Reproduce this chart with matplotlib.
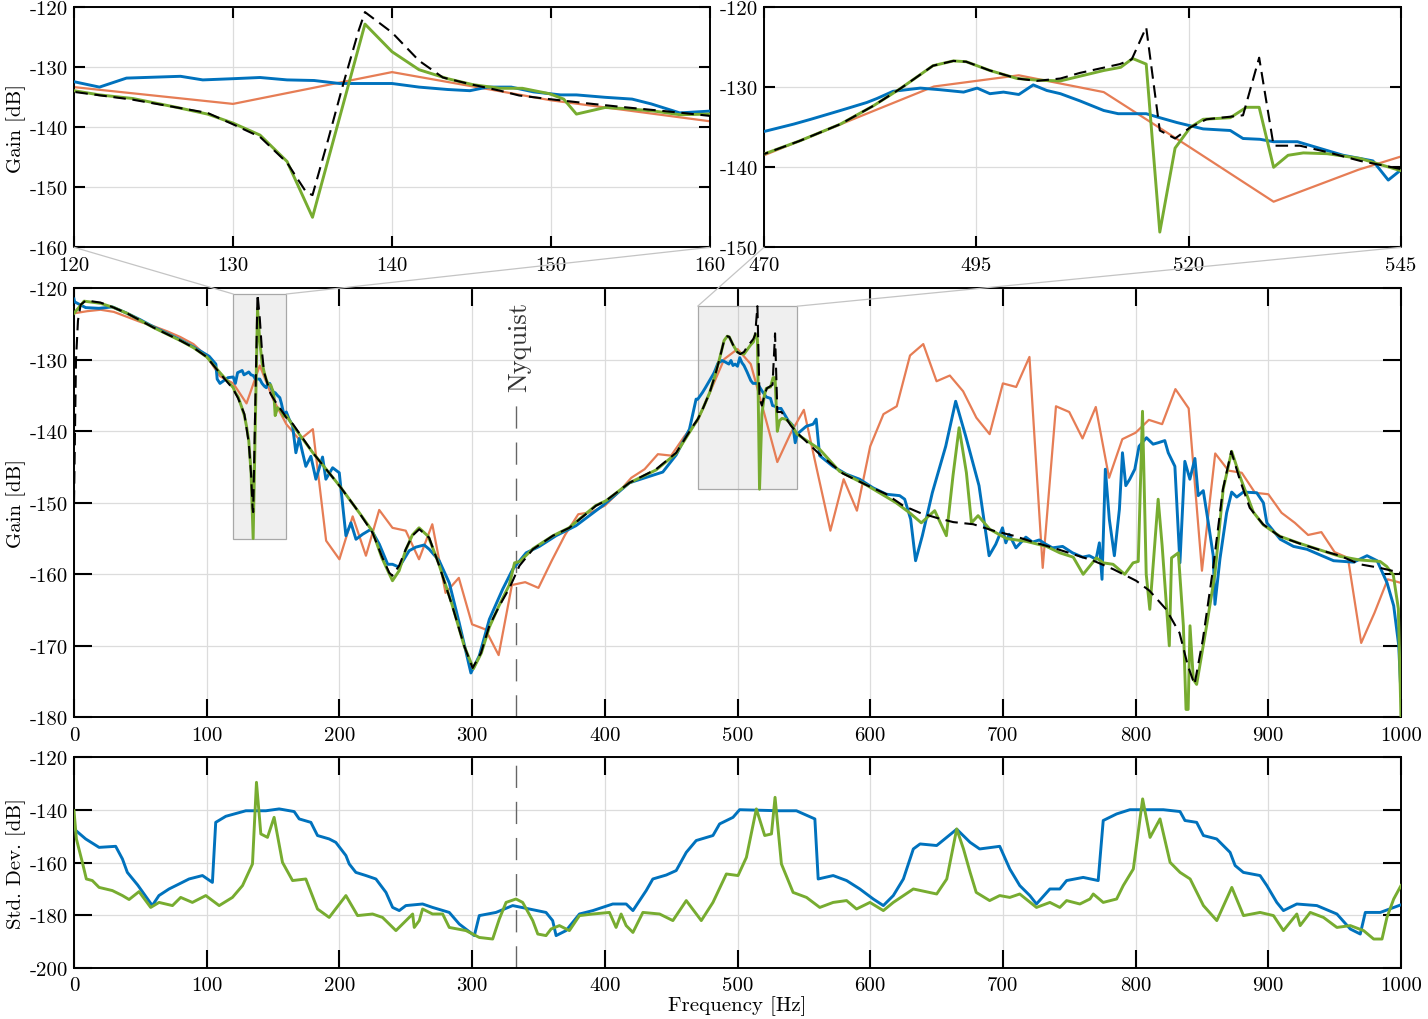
import numpy as np
import matplotlib
matplotlib.use('Agg')
import matplotlib.pyplot as plt
from matplotlib.patches import Rectangle, ConnectionPatch
from matplotlib.ticker import FuncFormatter

plt.rcParams['font.family'] = 'serif'
plt.rcParams['font.serif'] = ['cmr10', 'DejaVu Serif']
plt.rcParams['mathtext.fontset'] = 'cm'
plt.rcParams['axes.unicode_minus'] = False
plt.rcParams['axes.formatter.use_mathtext'] = False

# ---------------- data ----------------
orange_f = np.arange(0, 1001, 10)
orange_db = [-123.5, -123.2, -123.0, -123.3, -124.0, -124.7, -125.3, -126.0, -126.8, -127.8,
             -129.5, -132.3, -133.3, -136.1, -130.8, -135.5, -139.0, -141.2, -139.7, -155.3,
             -157.9, -151.9, -157.4, -151.0, -153.5, -153.9, -157.9, -153.0, -162.6, -160.5,
             -167.0, -167.7, -171.3, -161.5, -161.1, -161.9, -158.1, -154.5, -151.6, -151.3,
             -150.4, -148.6, -146.5, -145.3, -143.2, -143.4, -140.7, -138.5, -134.2, -129.9,
             -128.5, -130.6, -137.4, -144.3, -140.3, -137.0, -145.5, -153.9, -146.7, -151.1,
             -142.1, -137.6, -136.5, -129.4, -127.8, -133.0, -132.2, -134.4, -138.1, -140.4,
             -133.3, -133.8, -129.6, -159.1, -136.5, -137.3, -141.0, -136.6, -146.5, -141.1,
             -140.2, -138.4, -139.0, -134.1, -136.8, -159.5, -143.1, -145.5, -145.8, -148.6,
             -148.8, -151.4, -152.8, -154.5, -154.1, -156.9, -157.7, -169.6, -165.4, -160.7,
             -161.2]

black_f = [0, 1.5, 3, 5, 9, 20, 30, 40, 50, 60, 70, 80, 90, 100, 110, 120, 123.7, 126.5, 128.4,
           130, 131.7, 133.4, 134.6, 135.0, 136.0, 136.9, 137.9, 138.3, 140, 141.7, 143.2, 144.9,
           146.8, 148, 149.9, 152.6, 154.8, 157.9, 160, 165, 180, 200, 215, 225, 232, 237.6, 240,
           245, 250, 255, 260.2, 267.7, 275.2, 285, 294, 300.4, 306.7, 313, 320.6, 328.2, 335.7,
           345.8, 360.9, 373.3, 393.4, 400.9, 418.6, 438.7, 453.8, 466.3, 470.1, 474.2, 479, 482.9,
           486, 489.9, 492.3, 493.8, 496.6, 499.8, 502.1, 504.9, 507.2, 511.9, 513.3, 515, 516.6,
           518.4, 520.2, 522.1, 526.4, 528.3, 530, 533.1, 536.3, 540.2, 544.9, 561.8, 579.4, 597,
           612.2, 624.8, 637.4, 650, 662.6, 677.7, 692.8, 707.9, 723, 738, 753.1, 768.2, 783.3,
           790.8, 800.4, 810.5, 823, 833.1, 839.4, 844.4, 850.7, 858.3, 865.8, 872.1, 878.4, 886,
           896, 908.6, 923.7, 938.8, 953.9, 969, 984.1, 1000]
black_db = [-150, -130, -124.5, -122.3, -121.7, -122, -122.7, -123.5, -124.5, -125.5, -126.4,
            -127.3, -128.3, -129.6, -131.9, -134.1, -135.4, -136.7, -137.6, -139.5, -141.6, -145.9,
            -150.8, -151.3, -141.9, -133.1, -123.9, -120.8, -124.2, -128.9, -131.7, -132.8, -133.9,
            -134.7, -135.3, -136.1, -136.7, -137.5, -138.1, -139, -143, -147.6, -151.4, -154.2,
            -157.5, -159.8, -160.2, -158.8, -156.5, -154.6, -153.7, -154.9, -158.8, -164.4, -170,
            -173.1, -171, -167.2, -164.4, -161.9, -158.8, -156.5, -154.6, -153.5, -150.4, -149.7,
            -147.2, -145.3, -143, -139.3, -138.3, -136.7, -134.6, -132.3, -130.2, -127.3, -126.7,
            -126.8, -127.9, -128.9, -129.2, -128.9, -128.2, -127.1, -126.5, -122.5, -135.4, -136.4,
            -135, -134, -133.5, -126.3, -137.3, -137.3, -138.1, -139.2, -140.2, -143.2, -145.9,
            -147.5, -148.8, -150.4, -151.4, -152.1, -152.7, -153, -153.9, -154.6, -155.5, -156.3,
            -157.2, -158.1, -159.3, -160, -160.9, -162.3, -164.9, -168.2, -172.8, -175.4, -169.1,
            -159.3, -148.1, -142.8, -146.7, -150.7, -153, -154.7, -155.7, -156.6, -157.4, -158.6,
            -159.1, -159.8]

green_f = [0, 7.6, 20, 30, 40, 50, 60, 70, 80, 90, 100, 110, 120, 121.6, 123.7, 126.5, 128.4, 130,
           131.7, 133.4, 135, 138.3, 140, 141.7, 143.5, 145.1, 146.8, 148.2, 149.9, 150.8, 151.6,
           153.4, 154.8, 156.5, 158.1, 160, 165, 180, 200, 215, 225, 232, 240, 245, 250, 255, 260,
           267, 275, 285, 294, 301, 307, 313, 320, 328, 332, 336, 346, 361, 373, 393, 401, 418.6,
           438.7, 453.8, 466.3, 470.1, 474.2, 479, 482.9, 486, 489.9, 492.3, 493.8, 496.6, 499.8,
           502.1, 504.9, 510, 512, 513.4, 515, 516.6, 518.4, 520.2, 521.7, 524.9, 526.8, 528.3,
           530, 531.7, 533.5, 536.3, 540.2, 544.9, 561.8, 576.9, 597, 619.6, 629.7, 638.5, 648.6,
           657.4, 662.4, 667, 672.5, 676.3, 681.3, 690.1, 702.7, 717.8, 732.9, 742.9, 753, 760.5,
           770.5, 775.6, 783, 791.8, 798.1, 802, 805.2, 808, 810.7, 817, 820, 825.4, 827.1, 832.2,
           836, 838, 839.6, 841, 843.5, 846, 853.5, 859.8, 866, 872.4, 878.6, 888.7, 896.3, 908.9,
           924, 939, 954.2, 969, 984.2, 989.2, 994.2, 998, 1000]
green_db = [-123.5, -121.8, -122.1, -122.7, -123.5, -124.5, -125.5, -126.4, -127.3, -128.3, -129.6,
            -131.8, -133.9, -134.6, -135.2, -136.7, -137.8, -139.3, -141.3, -145.7, -155, -122.8,
            -127.4, -130.4, -131.9, -132.9, -133.5, -133.5, -134.4, -135.3, -137.8, -136.7, -136.9,
            -137.3, -137.9, -137.8, -139.2, -143, -147.6, -151.4, -154, -157.7, -160.9, -159.5,
            -156.6, -154.5, -153.5, -154.7, -158.6, -164.3, -170, -173.2, -171, -167.4, -164.5,
            -161.5, -158.4, -158.2, -156.4, -154.6, -153.5, -150.4, -149.7, -147.2, -145.4, -143.1,
            -139.4, -138.3, -136.7, -134.6, -132.3, -130.2, -127.3, -126.7, -126.8, -127.9, -128.9,
            -129.1, -129.2, -127.9, -127.5, -126.4, -127.1, -148.1, -137.6, -135, -134, -133.8,
            -132.5, -132.5, -140, -138.5, -138.2, -138.3, -138.9, -140.4, -142.5, -145.6, -147.5,
            -150, -151.4, -152.8, -151.1, -154.6, -146.2, -139.5, -145.8, -152.8, -151.8, -153.7,
            -155, -155.4, -156.1, -157, -157.6, -160, -157.7, -158.4, -158.6, -160, -158.4, -158.2,
            -137.2, -160, -164.9, -149.5, -156, -170, -157.7, -157, -167.2, -178.9, -178.9, -167.2,
            -174.7, -175.4, -167.2, -159.9, -148.1, -142.8, -146.3, -151.3, -153.1, -154.7, -155.7,
            -156.6, -157.5, -158, -158.2, -158.9, -160.1, -164.8, -180]

blue_f = [0, 0.5, 8.8, 18.8, 28.9, 40, 50, 60, 70, 80, 90, 101.8, 106.9, 107.9, 110, 116, 120,
          121.6, 123.3, 126.7, 128.1, 130, 131.7, 133.4, 135.1, 136.7, 140, 141.7, 143.5, 144.9,
          146, 147.5, 148.9, 150.6, 151.6, 153.4, 155.1, 156.3, 158.1, 160, 162.1, 164.7, 167.2,
          169.7, 174.7, 178.5, 182.3, 187.3, 189.8, 194.9, 199.9, 204.9, 208.7, 212.5, 217.5,
          223.8, 230.1, 236.4, 240, 245, 252.6, 257.6, 263.9, 267.7, 275.2, 282.8, 290.3, 299.1,
          305.4, 313, 323, 330.6, 340.7, 350.7, 363.3, 378.3, 398.4, 418.6, 438.7, 443.7, 453.8,
          463.8, 468.8, 470.1, 473.5, 475.5, 479, 482.1, 483.3, 485.2, 488.4, 490.7, 493.5, 495.1,
          496.6, 498.2, 500, 501.7, 503.3, 504.9, 507.2, 510, 511.7, 515, 516.6, 518.6, 521.7,
          524.9, 526.4, 528.4, 530, 532.8, 534.7, 538.2, 541.7, 543.5, 544.9, 551.8, 557, 559.3,
          561.9, 571.9, 582, 592, 602.1, 612.2, 622.2, 626, 630.5, 634.2, 639.3, 646.8, 656.9,
          664.4, 672, 682, 689.6, 694.6, 699.7, 702.2, 704.7, 709.8, 717.3, 722.3, 727.4, 732.4,
          737.4, 745, 752.5, 760.1, 765.1, 770.2, 772.7, 774.7, 777.2, 780.2, 784, 787.8, 790.1,
          792.6, 795.6, 799.4, 802.6, 808.2, 813.2, 817, 822, 824.6, 829.6, 833.4, 837.1, 840.9,
          844.7, 847.2, 851, 854.8, 858.5, 859.8, 863.6, 868.6, 872.4, 876.2, 881.2, 891.3, 896.3,
          898.9, 909, 919, 929.1, 949.2, 964.3, 974.4, 982, 989.5, 994.5, 998.3, 1000]
blue_db = [-121.5, -121.9, -122.7, -122.8, -122.6, -123.5, -124.4, -125.4, -126.3, -127.2, -128.2,
           -129.5, -130.6, -132.7, -133.3, -132.5, -132.4, -133.3, -131.8, -131.5, -132.1, -131.9,
           -131.7, -132.1, -132.2, -132.7, -132.7, -133.3, -133.7, -133.9, -133.3, -133.3, -134.1,
           -134.6, -134.6, -135.0, -135.3, -136.1, -137.6, -137.3, -138.3, -139.2, -143, -141,
           -144.9, -143.5, -146.7, -143.6, -146.7, -145.1, -145.8, -154.6, -152.8, -155.1, -154.4,
           -153.7, -155.8, -158.6, -158.6, -159, -156.7, -156.2, -155.9, -156.5, -158.1, -161.2,
           -166.8, -173.8, -171.4, -166.3, -162.1, -159.3, -157, -156.1, -154.6, -153.2, -150.4,
           -147.2, -146, -145.7, -143.3, -139.7, -135.5, -135.5, -134.6, -134, -132.9, -131.9,
           -131.4, -130.5, -130.1, -130.3, -130.6, -130.1, -130.8, -130.6, -130.9, -129.7, -130.4,
           -130.8, -131.7, -132.9, -133.3, -133.3, -133.8, -134.4, -135.2, -135.4, -136.4, -136.5,
           -136.8, -136.8, -137.4, -138.5, -139.2, -141.6, -140.4, -139.3, -139.0, -138.3, -143.4,
           -144.9, -146, -146.7, -147.9, -148.8, -149, -149.5, -152.3, -158.1, -154.6, -148.6,
           -142.1, -135.8, -140.7, -147.6, -157.4, -155.8, -153.5, -155.6, -154.4, -156.3, -154.8,
           -155.5, -155.2, -155.8, -156.3, -156.1, -157, -157.6, -157.4, -157.9, -155.6, -160.7,
           -145.3, -152.3, -157.4, -150.9, -143, -147.6, -146.7, -145.3, -142.1, -140.9, -141.8,
           -141.6, -141.3, -143, -144.9, -158.4, -144.2, -146.7, -143.8, -149, -148.3, -152.8,
           -157.4, -164.2, -157.8, -151.4, -148.5, -149.2, -148.5, -148.6, -150, -152.8, -155.1,
           -156.1, -156.5, -158.1, -158.3, -157.4, -158.1, -161.2, -164.4, -170, -177]

# standard deviation panel
std_blue_f = [0, 8.8, 18.9, 31.4, 36.5, 40.2, 48, 59, 64, 71.6, 79.2, 86.7, 96.8, 104.3, 106.8,
              114.4, 129.5, 144.6, 154.6, 165.9, 169.7, 178.5, 183.5, 192.3, 197.3, 204.9, 207.4,
              212.4, 220, 227.5, 235.1, 240.1, 245.1, 250.1, 262.7, 270.2, 282.8, 290.3, 301.7,
              305.4, 318, 330.6, 343.1, 355.7, 360.7, 363.3, 370.8, 380.9, 391, 406, 416.1, 421.2,
              431.2, 436.2, 446.3, 453.8, 461.4, 468.9, 481.5, 486.5, 496.6, 501.6, 531.8, 544.4,
              558.3, 560.8, 572.1, 582.2, 592.2, 602.3, 609.9, 617.4, 625, 632.5, 637.6, 650.1,
              665.2, 675.3, 682.5, 697.6, 705.2, 712.7, 720.3, 725.3, 735.4, 742.9, 748, 760.5,
              771.8, 775.6, 785.7, 795.7, 820.9, 833.5, 837.2, 846, 851.1, 861.1, 871.2, 875, 881.2,
              893.8, 898.9, 906.4, 911.4, 921.5, 936.6, 951.7, 961.8, 969.3, 973.1, 984.4, 1000]
std_blue_db = [-147.2, -151, -154.2, -153.8, -158.6, -163.7, -168.5, -176.3, -172.5, -170, -168.1,
               -166.2, -164.9, -167.5, -144.7, -142.4, -140.3, -140.3, -139.6, -140.6, -143.4,
               -144.7, -149.7, -151, -152.3, -157.3, -160.5, -163.7, -164.9, -166.2, -171.3, -177,
               -178.2, -176.3, -175.7, -177, -178.9, -183.3, -187.7, -180.1, -178.9, -176.3,
               -177.6, -178.9, -182, -187.7, -185.8, -179.5, -178.2, -175.7, -175.7, -178.2,
               -170.6, -166.2, -164.7, -163, -156.1, -151.6, -149.7, -145.3, -142.8, -139.9,
               -140.3, -140.3, -143.4, -166.2, -164.9, -166.8, -170, -173.8, -176.3, -172.5,
               -166.2, -154.8, -152.9, -153.5, -147.3, -152.3, -154.8, -153.8, -162.4, -168.7,
               -172.5, -175.7, -170, -170, -166.8, -165.6, -166.8, -144, -141.5, -139.9, -139.9,
               -140.6, -144, -144.7, -149.7, -151, -156.1, -161.1, -163.7, -164.9, -168.7, -175.1,
               -178.2, -175.7, -176.3, -179.5, -185.2, -187.1, -178.9, -178.9, -176]

std_green_f = [0, 1.8, 6.3, 9.3, 13.8, 18.9, 28.9, 36.5, 41.5, 49, 57.8, 64.1, 74.2, 80.4, 89.2,
               99.3, 109.4, 119.4, 127, 134.5, 137.5, 140.8, 145.8, 150.8, 157.1, 164.7, 174.7,
               183.5, 192.3, 204.9, 213.7, 225, 232.5, 242.6, 255.2, 256.4, 260.2, 262.7, 270.2,
               277.8, 282.8, 295.4, 305.4, 315.5, 320.5, 325.6, 333.1, 338.1, 345.7, 349.5, 355.7,
               359.5, 365.8, 373.3, 380.9, 391, 403.5, 408.5, 412.3, 416.1, 421.2, 428.7, 441.3,
               451.3, 461.4, 472.7, 481.5, 491.6, 500.4, 506.7, 514.2, 520.5, 525.6, 528.3, 533.1,
               541.9, 552, 562, 572.1, 582.2, 589.7, 599.8, 609.9, 617.4, 632.5, 650.1, 657.7,
               665.2, 670.3, 675.3, 679.9, 690, 697.6, 705.2, 712.7, 725.3, 735.4, 742.9, 748,
               758, 765.6, 768.1, 775.6, 785.7, 790.7, 798.3, 805.3, 810.9, 818.4, 826, 833.5,
               841.1, 851.1, 861.2, 872.5, 881.3, 893.8, 903.9, 911.4, 921.5, 924, 931.6, 941.6,
               951.7, 961.8, 971.8, 979.4, 985.7, 989.4, 994.5, 1000]
std_green_db = [-140.3, -151, -159.9, -166.2, -166.8, -169.4, -170.6, -172.5, -174, -171, -177,
                -175.1, -176.3, -173.2, -175.1, -172.5, -176.3, -173.2, -168.7, -160.5, -129.5,
                -149.1, -150.4, -142.8, -159.9, -166.8, -166.2, -177.6, -180.8, -172.5, -180.1,
                -179.5, -180.8, -185.8, -179.5, -184.6, -182, -177.6, -179.5, -179.5, -184.6,
                -185.8, -188.4, -189, -181.4, -175.1, -173.8, -175.1, -182, -187.1, -187.7,
                -185.2, -183.9, -185.8, -180.1, -179.5, -178.9, -184.6, -179.5, -183.9, -186.5,
                -178.9, -179.5, -182, -174.4, -182, -175.1, -164.3, -164.9, -158, -139.6, -149.7,
                -149.1, -135.2, -160.5, -171.3, -173.2, -177, -175.1, -174.4, -177.6, -175.1,
                -178.2, -175.1, -170, -171.9, -166.2, -147.2, -154.8, -163.7, -171.3, -174.4,
                -172.5, -173.2, -171.9, -177, -175.1, -177, -174.4, -175.7, -173.8, -171.9, -175.1,
                -173.8, -168.7, -162.4, -135.8, -150.4, -143.4, -159.9, -163.7, -166.2, -176.3,
                -182, -169.4, -180.1, -178.9, -180.1, -185.8, -179.5, -183.9, -178.9, -180.8,
                -184.6, -183.9, -185.8, -189, -189, -180.8, -173.8, -168.7]

nyquist_f = 1000 / 3
zoom_left = (120, 160)
zoom_right = (470, 545)

main_xticks = list(range(0, 1001, 100))
main_yticks = list(range(-180, -119, 10))
std_yticks = list(range(-200, -119, 20))
left_xticks = [120, 130, 140, 150, 160]
left_yticks = [-160, -150, -140, -130, -120]
right_xticks = [470, 495, 520, 545]
right_yticks = [-150, -140, -130, -120]

# ---------------- style ----------------
C_BLUE = '#0072BD'
C_ORANGE = '#E67D55'
C_GREEN = '#77AC30'
W, H = 1428, 1020
fig = plt.figure(figsize=(W / 100, H / 100), dpi=100)


def box(l, t, r, b):
    return [l / W, 1 - b / H, (r - l) / W, (b - t) / H]


ax_l = fig.add_axes(box(74, 8.3, 710, 248.3))
ax_r = fig.add_axes(box(764, 8.3, 1401, 248.3))
ax_m = fig.add_axes(box(74, 289.3, 1401, 718.3))
ax_b = fig.add_axes(box(74, 758.3, 1401, 969))

fmt = FuncFormatter(lambda v, p: '%d' % round(v))


def style(ax, ticklen):
    ax.tick_params(direction='in', length=ticklen, width=1.5, top=True, right=True,
                   labelsize=15, colors='black')
    ax.tick_params(axis='x', pad=6)
    ax.tick_params(axis='y', pad=4)
    for s in ax.spines.values():
        s.set_linewidth(1.4)
    ax.grid(True, color='#dcdcdc', lw=0.9)
    ax.set_axisbelow(True)
    ax.xaxis.set_major_formatter(fmt)
    ax.yaxis.set_major_formatter(fmt)


def draw_gain(ax):
    ax.plot(orange_f, orange_db, color=C_ORANGE, lw=1.6, zorder=2)
    ax.plot(blue_f, blue_db, color=C_BLUE, lw=2.1, zorder=3)
    ax.plot(green_f, green_db, color=C_GREEN, lw=2.1, zorder=4)
    ax.plot(black_f, black_db, color='black', lw=1.5, dashes=(6, 3.2), zorder=5)


for ax in (ax_l, ax_r, ax_m):
    draw_gain(ax)

# insets
ax_l.set_xlim(*zoom_left)
ax_l.set_ylim(-160, -120)
ax_l.set_xticks(left_xticks)
ax_l.set_yticks(left_yticks)
ax_l.set_ylabel('Gain [dB]', fontsize=15, labelpad=3)
style(ax_l, 8)

ax_r.set_xlim(*zoom_right)
ax_r.set_ylim(-150, -120)
ax_r.set_xticks(right_xticks)
ax_r.set_yticks(right_yticks)
style(ax_r, 8)

# main
ax_m.set_xlim(0, 1000)
ax_m.set_ylim(-180, -120)
ax_m.set_xticks(main_xticks)
ax_m.set_yticks(main_yticks)
ax_m.set_ylabel('Gain [dB]', fontsize=15, labelpad=3)
style(ax_m, 13)

# zoom rectangles and connectors
all_series = [(orange_f, orange_db), (blue_f, blue_db), (green_f, green_db), (black_f, black_db)]
for ax_in, (x0, x1) in ((ax_l, zoom_left), (ax_r, zoom_right)):
    vals = []
    for fx, dy in all_series:
        fx = np.asarray(fx, float)
        dy = np.asarray(dy, float)
        m = (fx >= x0) & (fx <= x1)
        vals.extend(dy[m])
    y0, y1 = min(vals), max(vals)
    ax_m.add_patch(Rectangle((x0, y0), x1 - x0, y1 - y0, facecolor='0.5', alpha=0.12,
                             edgecolor='none', zorder=1))
    ax_m.add_patch(Rectangle((x0, y0), x1 - x0, y1 - y0, facecolor='none',
                             edgecolor='#a8a8a8', lw=0.9, zorder=1.5))
    yb = ax_in.get_ylim()[0]
    for xx in (x0, x1):
        con = ConnectionPatch(xyA=(xx, yb), coordsA=ax_in.transData, xyB=(xx, y1),
                              coordsB=ax_m.transData, color='#c4c4c4', lw=0.9)
        fig.add_artist(con)

# Nyquist
label_y = -134.4
ax_m.vlines(nyquist_f, -180, label_y - 0.9, colors='0.4', lw=1.0, linestyles=(0, (16, 10)),
            zorder=1.6)
ax_m.text(nyquist_f + 2.5, label_y, 'Nyquist', rotation=90, ha='center', va='bottom',
          fontsize=19, color='0.2')

# std panel
ax_b.plot(std_blue_f, std_blue_db, color=C_BLUE, lw=2.1, zorder=3)
ax_b.plot(std_green_f, std_green_db, color=C_GREEN, lw=2.1, zorder=4)
ax_b.axvline(nyquist_f, color='0.4', lw=1.0, ls=(0, (16, 10)), zorder=1.6)
ax_b.set_xlim(0, 1000)
ax_b.set_ylim(-200, -120)
ax_b.set_xticks(main_xticks)
ax_b.set_yticks(std_yticks)
ax_b.set_ylabel('Std. Dev. [dB]', fontsize=15, labelpad=3)
ax_b.set_xlabel('Frequency [Hz]', fontsize=15, labelpad=1)
style(ax_b, 13)

fig.savefig('out.png', dpi=100)
